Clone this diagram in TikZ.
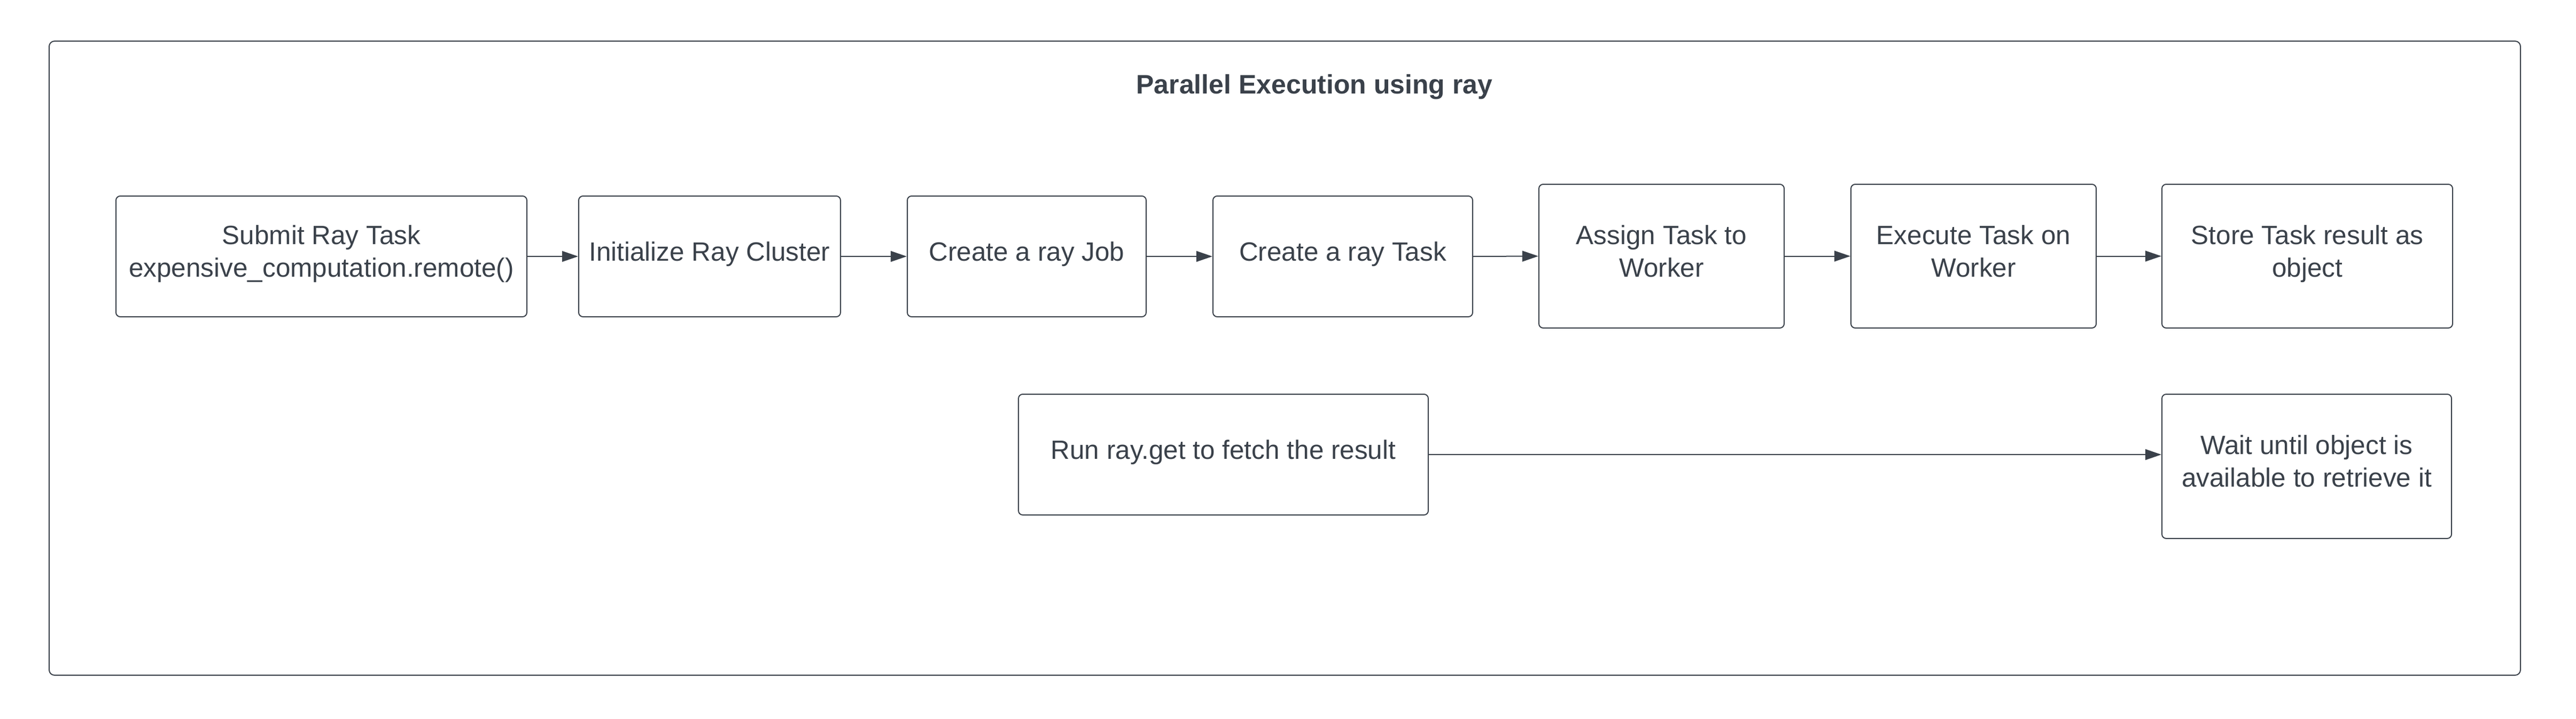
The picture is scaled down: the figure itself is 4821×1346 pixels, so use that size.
\documentclass[tikz,border=0pt]{standalone}
\usepackage{fontspec}
\setmainfont{Liberation Sans}
\usetikzlibrary{arrows.meta}
\definecolor{ink}{RGB}{58,65,74}
\newcommand{\boxtext}[1]{\raisebox{4pt}[\height][\depth]{\begin{tabular}{@{}c@{}}#1\end{tabular}}}
\tikzset{
  box/.style={draw=ink, line width=2pt, rounded corners=8pt, text=ink, align=center,
    inner sep=0pt, font=\fontsize{49.5}{61}\selectfont},
  conn/.style={draw=ink, line width=2pt, -{Triangle[length=30pt,width=20pt]}},
}
\begin{document}
\begin{tikzpicture}[x=1pt,y=-1pt]
\useasboundingbox (0,0) rectangle (4821,1346);
\node[draw=ink, line width=2pt, rounded corners=10pt, minimum width=4625pt, minimum height=1187pt, inner sep=0pt] (frame) at (2404.5,670.5) {};
\node[text=ink, font=\bfseries\fontsize{50}{60}\selectfont] (title) at (2460,163) {Parallel Execution using ray};
\node[box, minimum width=769pt, minimum height=226pt] (submit) at (601.5,480) {\boxtext{Submit Ray Task\\expensive\_computation.remote()}};
\node[box, minimum width=490pt, minimum height=226pt] (init) at (1328,480) {\boxtext{Initialize Ray Cluster}};
\node[box, minimum width=447pt, minimum height=226pt] (job) at (1921.5,480) {\boxtext{Create a ray Job}};
\node[box, minimum width=486pt, minimum height=226pt] (task) at (2513,480) {\boxtext{Create a ray Task}};
\node[box, minimum width=459pt, minimum height=269pt] (assign) at (3109.5,479.5) {\boxtext{Assign Task to\\Worker}};
\node[box, minimum width=459pt, minimum height=269pt] (exec) at (3693.5,479.5) {\boxtext{Execute Task on\\Worker}};
\node[box, minimum width=544pt, minimum height=269pt] (store) at (4318,479.5) {\boxtext{Store Task result as\\object}};
\node[box, minimum width=767pt, minimum height=226pt] (run) at (2289.5,851) {\boxtext{Run ray.get to fetch the result}};
\node[box, minimum width=542pt, minimum height=270pt] (wait) at (4317,873) {\boxtext{Wait until object is\\available to retrieve it}};
\draw[conn] (submit.east) -- (init.west);
\draw[conn] (init.east) -- (job.west);
\draw[conn] (job.east) -- (task.west);
\draw[conn] (task.east) -- (assign.west);
\draw[conn] (assign.east) -- (exec.west);
\draw[conn] (exec.east) -- (store.west);
\draw[conn] (run.east) -- (run.east -| wait.west);
\end{tikzpicture}
\end{document}
